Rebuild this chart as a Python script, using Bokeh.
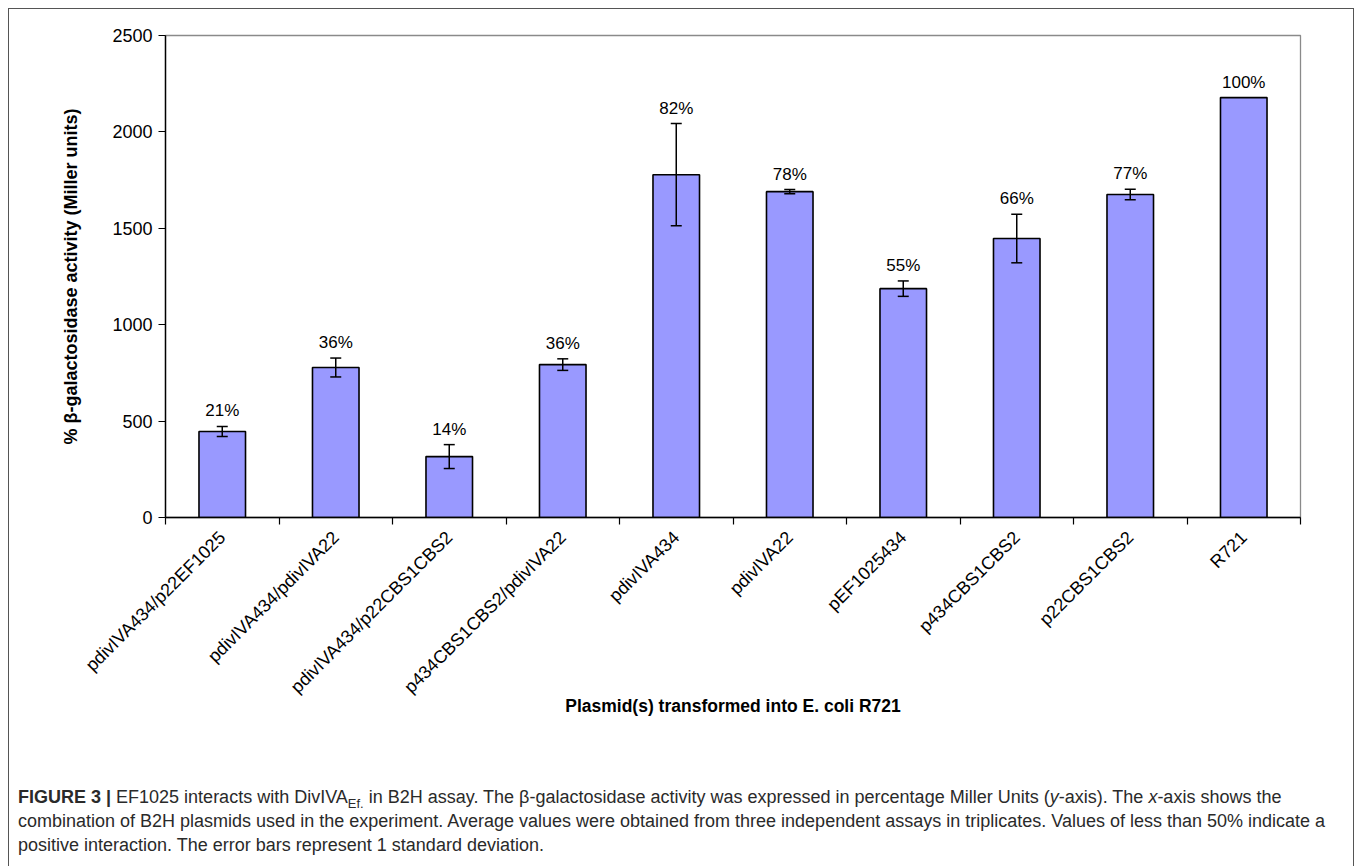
import math
from bokeh.plotting import figure
from bokeh.layouts import column
from bokeh.models import (ColumnDataSource, Whisker, TeeHead, LabelSet, Div,
                          FixedTicker, Range1d)
from bokeh.core.properties import value
from bokeh.embed import file_html
from bokeh.resources import INLINE

# ---------------- data ----------------
categories = ["pdivIVA434/p22EF1025", "pdivIVA434/pdivIVA22", "pdivIVA434/p22CBS1CBS2",
              "p434CBS1CBS2/pdivIVA22", "pdivIVA434", "pdivIVA22", "pEF1025434",
              "p434CBS1CBS2", "p22CBS1CBS2", "R721"]
activity = [446, 778, 316, 793, 1778, 1690, 1187, 1447, 1675, 2178]
std_dev = [26, 49, 62, 30, 265, 11, 40, 126, 27, 0]
pct_labels = ["21%", "36%", "14%", "36%", "82%", "78%", "55%", "66%", "77%", "100%"]
y_ticks = [0, 500, 1000, 1500, 2000, 2500]

y_title = "% \u03b2-galactosidase activity (Miller units)"
x_title = "Plasmid(s) transformed into E. coli R721"
caption_html = (
    "<b>FIGURE 3 |</b> EF1025 interacts with DivIVA"
    "<sub style=\"line-height:0; font-size:72%;\">Ef.</sub> in B2H assay. "
    "The \u03b2-galactosidase activity was expressed in percentage Miller Units "
    "(<i>y</i>-axis). The <i>x</i>-axis shows the<br>"
    "combination of B2H plasmids used in the experiment. Average values were obtained "
    "from three independent assays in triplicates. Values of less than 50% indicate a<br>"
    "positive interaction. The error bars represent 1 standard deviation."
)

# ---------------- layout constants ----------------
W, H = 1357, 866
BX0, BY0, BX1 = 8, 8, 1354          # outer border (canvas px)
BW = 1                              # border width
IX, IY = BX0 + BW, BY0 + BW         # content origin
CW = BX1 - BX0 - 2 * BW             # content width
CAP_TOP = 770                       # caption panel top (canvas)
FL, FR, FT, FB = 165, 1300, 35, 517  # chart frame edges (canvas)
FONT = "Liberation Sans"

# ---------------- chart figure ----------------
chart_h = CAP_TOP - IY
x_pos = [i + 1 for i in range(len(categories))]
p = figure(width=CW, height=chart_h, output_backend="svg", toolbar_location=None,
           x_range=Range1d(0.5, len(categories) + 0.5), y_range=Range1d(0, 2500),
           min_border_left=FL - IX, min_border_right=CW - (FR - IX),
           min_border_top=FT - IY, min_border_bottom=chart_h - (FB - IY),
           background_fill_color="white", border_fill_color="white")
p.xgrid.visible = False
p.ygrid.visible = False
p.outline_line_color = "#8a8a8a"
p.outline_line_width = 1.3

src = ColumnDataSource(dict(
    x=x_pos, top=activity, std=std_dev, pct=pct_labels,
    label_y=[a + s for a, s in zip(activity, std_dev)],
))
p.vbar(x="x", top="top", width=0.41, source=src, fill_color="#9999FF",
       line_color="black", line_width=1.6)

err_idx = [i for i, s in enumerate(std_dev) if s > 0]
err_src = ColumnDataSource(dict(
    x=[x_pos[i] for i in err_idx],
    upper=[activity[i] + std_dev[i] for i in err_idx],
    lower=[activity[i] - std_dev[i] for i in err_idx],
))
p.add_layout(Whisker(source=err_src, base="x", upper="upper", lower="lower",
                     line_color="black", line_width=1.5, level="overlay",
                     upper_head=TeeHead(size=11, line_color="black", line_width=1.5),
                     lower_head=TeeHead(size=11, line_color="black", line_width=1.5)))

p.add_layout(LabelSet(source=src, x="x", y="label_y", text="pct", y_offset=6,
                      text_align="center", text_baseline="bottom",
                      text_font=value(FONT), text_font_size="17px", text_color="black"))

# y axis
ya = p.yaxis[0]
ya.ticker = FixedTicker(ticks=y_ticks, minor_ticks=[])
ya.major_tick_out = 7
ya.major_tick_in = 0
ya.major_tick_line_color = "black"
ya.major_tick_line_width = 1.2
ya.axis_line_color = "black"
ya.axis_line_width = 1.4
ya.major_label_text_font = FONT
ya.major_label_text_font_size = "18px"
ya.major_label_text_color = "black"
ya.major_label_standoff = 6
ya.axis_label = y_title
ya.axis_label_text_font = FONT
ya.axis_label_text_font_size = "18px"
ya.axis_label_text_font_style = "bold"
ya.axis_label_text_color = "black"
ya.axis_label_standoff = 28

# x axis: labels at bar centres, tick marks at category boundaries
xa = p.xaxis[0]
xa.ticker = FixedTicker(ticks=x_pos,
                        minor_ticks=[i + 0.5 for i in range(len(categories) + 1)])
xa.major_label_overrides = {x: c for x, c in zip(x_pos, categories)}
xa.major_label_orientation = math.pi / 4
xa.major_tick_out = 0
xa.major_tick_in = 0
xa.minor_tick_out = 7
xa.minor_tick_in = 0
xa.minor_tick_line_color = "black"
xa.minor_tick_line_width = 1.2
xa.axis_line_color = "black"
xa.axis_line_width = 1.4
xa.major_label_text_font = FONT
xa.major_label_text_font_size = "18px"
xa.major_label_text_color = "black"
xa.major_label_standoff = 10
xa.axis_label = x_title
xa.axis_label_text_font = FONT
xa.axis_label_text_font_size = "17.5px"
xa.axis_label_text_font_style = "bold"
xa.axis_label_text_color = "black"
xa.axis_label_standoff = -11

# ---------------- caption ----------------
cap_h = H - CAP_TOP
cap = Div(text=(f'<div style="padding:15px 0 0 {18 - IX}px; font-family:\'{FONT}\'; '
                f'font-size:18px; line-height:24px; '
                f'color:#2a2a2a; white-space:nowrap;">'
                f'{caption_html}</div>'),
          width=CW, height=cap_h, margin=0,
          styles={"background-color": "white"})

border = f"{BW}px solid #555555"
layout = column(p, cap, margin=(BY0, 0, 0, BX0), spacing=0,
                styles={"border-top": border, "border-left": border,
                        "border-right": border})

open("out.html", "w").write(file_html(layout, INLINE))
